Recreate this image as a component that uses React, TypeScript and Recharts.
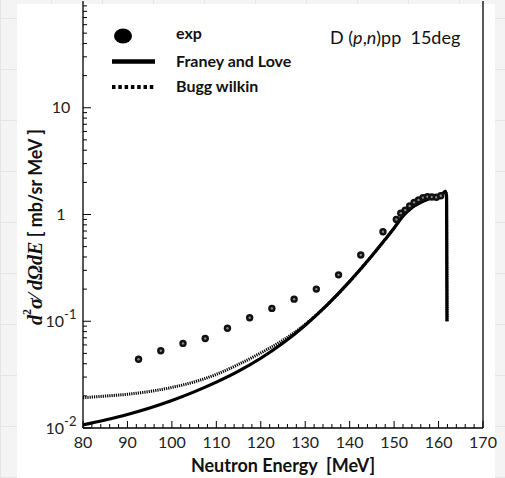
import React from "react";
import {
  ComposedChart,
  Line,
  Scatter,
  XAxis,
  YAxis,
  ReferenceLine,
} from "recharts";

// Measured D(p,n)pp cross sections at 15 deg
const expEnergy = [
  92.5, 97.5, 102.5, 107.5, 112.5, 117.5, 122.5, 127.5, 132.5, 137.5, 142.5,
  147.5, 150.5, 151.5, 152.5, 153.5, 154.5, 155.5, 156.5, 157.5, 158.5, 159.5,
  160.5,
];
const expCross = [
  0.044, 0.053, 0.062, 0.069, 0.086, 0.108, 0.132, 0.161, 0.2, 0.272, 0.418,
  0.69, 0.9, 1.03, 1.1, 1.2, 1.3, 1.37, 1.44, 1.47, 1.46, 1.45, 1.5,
];

// Franey and Love calculation
const franeyEnergy = [
  80, 85, 90, 95, 100, 105, 110, 115, 120, 125, 130, 135, 140, 145, 148, 150,
  152, 154, 156, 158, 160, 161, 161.5, 161.8, 161.9,
];
const franeyCross = [
  0.0107, 0.0119, 0.0134, 0.0154, 0.0181, 0.0218, 0.0269, 0.0341, 0.045,
  0.0625, 0.0918, 0.143, 0.236, 0.41, 0.585, 0.746, 0.97, 1.16, 1.3, 1.41,
  1.51, 1.58, 1.65, 1.5, 0.1,
];

// Bugg wilkin calculation
const buggEnergy = [
  80, 85, 90, 95, 100, 105, 110, 115, 120, 125, 130, 135, 140, 145, 148, 150,
  152, 154, 156, 158, 160, 161, 161.5, 161.8, 161.9,
];
const buggCross = [
  0.0192, 0.0199, 0.0207, 0.022, 0.024, 0.027, 0.0318, 0.0395, 0.0505,
  0.0665, 0.0935, 0.143, 0.236, 0.41, 0.585, 0.746, 0.97, 1.16, 1.3, 1.41,
  1.51, 1.58, 1.65, 1.5, 0.1,
];

const xTicks = [
  80, 82, 84, 86, 88, 90, 92, 94, 96, 98, 100, 102, 104, 106, 108, 110, 112,
  114, 116, 118, 120, 122, 124, 126, 128, 130, 132, 134, 136, 138, 140, 142,
  144, 146, 148, 150, 152, 154, 156, 158, 160, 162, 164, 166, 168, 170,
];
const xMajor = [80, 90, 100, 110, 120, 130, 140, 150, 160, 170];

const yTicks = [
  0.01, 0.02, 0.03, 0.04, 0.05, 0.06, 0.07, 0.08, 0.09, 0.1, 0.2, 0.3, 0.4,
  0.5, 0.6, 0.7, 0.8, 0.9, 1, 2, 3, 4, 5, 6, 7, 8, 9, 10, 20, 30, 40, 50, 60,
  70, 80, 90,
];
const yMajorLabels: Record<string, [string, string]> = {
  "0.01": ["10", "-2"],
  "0.1": ["10", "-1"],
  "1": ["1", ""],
  "10": ["10", ""],
};

const legendItems = [
  { name: "exp", kind: "dot" },
  { name: "Franey and Love", kind: "solid" },
  { name: "Bugg wilkin", kind: "dotted" },
];

const zip = (xs: number[], ys: number[]) =>
  xs.map((e, i) => ({ e, v: ys[i] }));

const expData = zip(expEnergy, expCross);
const franeyData = zip(franeyEnergy, franeyCross);
const buggData = zip(buggEnergy, buggCross);

const FONT = "Lato, 'Open Sans', sans-serif";

const XTick = (props: any) => {
  const { x, y, payload } = props;
  const v = payload.value;
  const major = xMajor.includes(v);
  return (
    <g>
      <line x1={x} x2={x} y1={y} y2={y - (major ? 7 : 4)} stroke="#000" strokeWidth={1} />
      {major && (
        <text x={x} y={y + 20} textAnchor="middle" fontFamily={FONT} fontSize={16} fill="#222">
          {v}
        </text>
      )}
    </g>
  );
};

const YTick = (props: any) => {
  const { x, y, payload } = props;
  const v = payload.value;
  const lab = yMajorLabels[String(v)];
  const major = !!lab;
  return (
    <g>
      <line x1={x} x2={x + (major ? 8 : 4)} y1={y} y2={y} stroke="#000" strokeWidth={1} />
      {lab && (
        <text x={x - 22} y={y + 5.5} textAnchor="middle" fontFamily={FONT} fontSize={16} fill="#222">
          <tspan>{lab[0]}</tspan>
          {lab[1] && (
            <tspan dy={-8} fontSize={13}>
              {lab[1]}
            </tspan>
          )}
        </text>
      )}
    </g>
  );
};

const ExpDot = (props: any) => {
  const { cx, cy } = props;
  return (
    <g>
      <circle cx={cx} cy={cy} r={3.7} fill="#111" />
      <circle cx={cx} cy={cy} r={1.2} fill="#888" />
    </g>
  );
};

const XLabel = (props: any) => {
  const { viewBox } = props;
  return (
    <text
      x={viewBox.x + viewBox.width / 2}
      y={viewBox.y + 44}
      textAnchor="middle"
      fontFamily={FONT}
      fontWeight="bold"
      fontSize={18}
      fill="#111"
      style={{ whiteSpace: "pre" }}
    >
      {"Neutron Energy  [MeV]"}
    </text>
  );
};

const YLabel = (props: any) => {
  const { viewBox } = props;
  const cx = viewBox.x + 42;
  const cy = viewBox.y + 324;
  const serif = "'Liberation Serif', 'DejaVu Serif', serif";
  return (
    <text
      transform={`translate(${cx},${cy}) rotate(-90)`}
      textAnchor="start"
      fill="#111"
      fontWeight="bold"
      style={{ whiteSpace: "pre" }}
    >
      <tspan fontFamily={serif} fontStyle="italic" fontSize={20}>d</tspan>
      <tspan fontFamily={serif} fontSize={12} dy={-11}>2</tspan>
      <tspan fontFamily={serif} fontStyle="italic" fontSize={20} dy={11}>σ</tspan>
      <tspan fontFamily={serif} fontSize={20}>⁄</tspan>
      <tspan fontFamily={serif} fontStyle="italic" fontSize={20}> dΩdE</tspan>
      <tspan fontFamily={FONT} fontSize={18}>{" [ mb/sr MeV ]"}</tspan>
    </text>
  );
};

const Overlay = () => (
  <svg
    width={505}
    height={478}
    style={{ position: "absolute", left: 0, top: 0, pointerEvents: "none" }}
  >
    {legendItems.map((it, i) => {
      const cy = 36 + i * 25.5;
      return (
        <g key={it.name}>
          {it.kind === "dot" && <ellipse cx={123} cy={cy} rx={9} ry={7.5} fill="#000" />}
          {it.kind === "solid" && (
            <line x1={112} x2={155} y1={cy} y2={cy} stroke="#000" strokeWidth={4.5} />
          )}
          {it.kind === "dotted" && (
            <line
              x1={112}
              x2={155}
              y1={cy}
              y2={cy}
              stroke="#000"
              strokeWidth={4}
              strokeDasharray="3.5 2.8"
            />
          )}
          <text
            x={176}
            y={cy + (i === 0 ? 2.5 : 5)}
            fontFamily={FONT}
            fontWeight="bold"
            fontSize={16}
            fill="#111"
          >
            {it.name}
          </text>
        </g>
      );
    })}
    <text x={330} y={44} fontFamily={FONT} fontSize={18} fill="#111" style={{ whiteSpace: "pre" }}>
      <tspan>{"D ("}</tspan>
      <tspan fontStyle="italic">p</tspan>
      <tspan>,</tspan>
      <tspan fontStyle="italic">n</tspan>
      <tspan>{")pp  15deg"}</tspan>
    </text>
  </svg>
);

export default function App() {
  return (
    <div
      style={{
        position: "absolute",
        left: 0,
        top: 0,
        width: 505,
        height: 478,
        background: "#f4f4f4",
        backgroundImage:
          "repeating-linear-gradient(0deg, #e5e5e5 0 1px, transparent 1px 51px), repeating-linear-gradient(90deg, #e5e5e5 0 1px, transparent 1px 51px)",
        overflow: "hidden",
      }}
    >
      <div
        style={{
          position: "absolute",
          left: 17,
          top: 4,
          width: 478,
          height: 474,
          background: "#fff",
        }}
      />
      <ComposedChart
        width={505}
        height={478}
        margin={{ top: 1, right: 22, bottom: 0, left: 0 }}
        style={{ position: "absolute", left: 0, top: 0 }}
      >
        <XAxis
          dataKey="e"
          type="number"
          domain={[80, 170]}
          ticks={xTicks}
          interval={0}
          allowDataOverflow
          height={50}
          tickSize={0}
          tickMargin={0}
          tickLine={false}
          tick={<XTick />}
          axisLine={{ stroke: "#000", strokeWidth: 1.3 }}
          label={<XLabel />}
        />
        <YAxis
          dataKey="v"
          type="number"
          scale="log"
          domain={[0.01, 100]}
          ticks={yTicks}
          interval={0}
          allowDataOverflow
          width={83}
          tickSize={0}
          tickMargin={0}
          tickLine={false}
          tick={<YTick />}
          axisLine={{ stroke: "#000", strokeWidth: 1.3 }}
          label={<YLabel />}
        />
        <ReferenceLine x={170} stroke="#000" strokeWidth={1.3} />
        <Line
          data={buggData}
          dataKey="v"
          type="monotone"
          stroke="#000"
          strokeWidth={3}
          strokeDasharray="1.2 1"
          dot={false}
          isAnimationActive={false}
        />
        <Line
          data={franeyData}
          dataKey="v"
          type="monotone"
          stroke="#000"
          strokeWidth={3.2}
          dot={false}
          isAnimationActive={false}
        />
        <Scatter
          data={expData}
          dataKey="v"
          shape={<ExpDot />}
          isAnimationActive={false}
        />
      </ComposedChart>
      <Overlay />
    </div>
  );
}
